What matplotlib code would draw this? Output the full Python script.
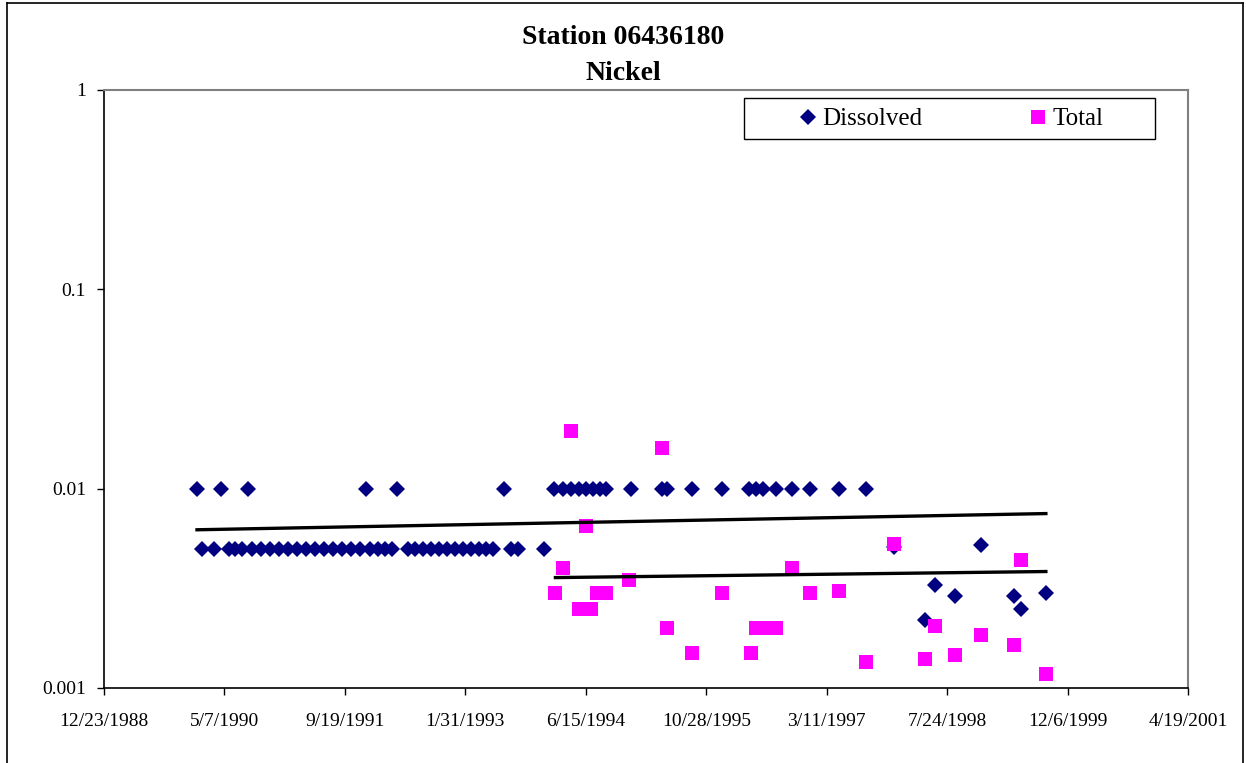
import matplotlib
matplotlib.use("Agg")
import matplotlib.pyplot as plt
import matplotlib.dates as mdates
from matplotlib.lines import Line2D
from matplotlib.patches import Rectangle
import pandas as pd

plt.rcParams['font.family'] = ['Liberation Serif', 'DejaVu Serif']

# Dissolved nickel (mg/L)
dissolved_dates = [
    "1990-01-13", "1990-02-02", "1990-03-24", "1990-04-22", "1990-05-25", "1990-06-19",
    "1990-07-18", "1990-08-12", "1990-08-29", "1990-10-05", "1990-11-11", "1990-12-19",
    "1991-01-25", "1991-03-03", "1991-04-10", "1991-05-17", "1991-06-23", "1991-07-31",
    "1991-09-06", "1991-10-13", "1991-11-20", "1991-12-15", "1991-12-31", "1992-02-02",
    "1992-03-02", "1992-03-31", "1992-04-21", "1992-06-06", "1992-07-05", "1992-08-07",
    "1992-09-09", "1992-10-12", "1992-11-15", "1992-12-18", "1993-01-20", "1993-02-22",
    "1993-03-27", "1993-04-25", "1993-05-24", "1993-07-09", "1993-08-07", "1993-09-05",
    "1993-12-22", "1994-02-05", "1994-03-11", "1994-04-13", "1994-05-16", "1994-06-14",
    "1994-07-13", "1994-08-11", "1994-09-05", "1994-12-18", "1995-04-29", "1995-05-20",
    "1995-08-28", "1996-01-03", "1996-04-23", "1996-05-22", "1996-06-20", "1996-08-13",
    "1996-10-19", "1997-01-02", "1997-05-02", "1997-08-22", "1997-12-16", "1998-04-23",
    "1998-06-04", "1998-08-26", "1998-12-12", "1999-04-27", "1999-05-26", "1999-09-07",
]
dissolved_vals = [
    0.01, 0.005, 0.005, 0.01, 0.005, 0.005,
    0.005, 0.01, 0.005, 0.005, 0.005, 0.005,
    0.005, 0.005, 0.005, 0.005, 0.005, 0.005,
    0.005, 0.005, 0.005, 0.01, 0.005, 0.005,
    0.005, 0.005, 0.01, 0.005, 0.005, 0.005,
    0.005, 0.005, 0.005, 0.005, 0.005, 0.005,
    0.005, 0.005, 0.005, 0.01, 0.005, 0.005,
    0.005, 0.01, 0.01, 0.01, 0.01, 0.01,
    0.01, 0.01, 0.01, 0.01, 0.01, 0.01,
    0.01, 0.01, 0.01, 0.01, 0.01, 0.01,
    0.01, 0.01, 0.01, 0.01, 0.0051, 0.0022,
    0.0033, 0.0029, 0.0052, 0.0029, 0.0025, 0.003,
]

# Total nickel (mg/L)
total_dates = [
    "1994-02-09", "1994-03-11", "1994-04-16", "1994-05-19", "1994-06-14", "1994-07-08",
    "1994-08-02", "1994-09-05", "1994-12-13", "1995-04-29", "1995-05-20", "1995-08-28",
    "1996-01-03", "1996-05-01", "1996-05-22", "1996-07-03", "1996-08-13", "1996-10-19",
    "1997-01-02", "1997-05-02", "1997-08-22", "1997-12-16", "1998-04-23", "1998-06-04",
    "1998-08-26", "1998-12-12", "1999-04-27", "1999-05-26", "1999-09-07",
]
total_vals = [
    0.003, 0.004, 0.0195, 0.0025, 0.0065, 0.0025,
    0.003, 0.003, 0.0035, 0.016, 0.002, 0.0015,
    0.003, 0.0015, 0.002, 0.002, 0.002, 0.004,
    0.003, 0.00305, 0.00135, 0.0053, 0.0014, 0.00205,
    0.00146, 0.00185, 0.00165, 0.0044, 0.00118,
]

# trendline end values
dissolved_trend = [0.00622, 0.0075]
total_trend = [0.00358, 0.00384]

x_start = "1988-12-23"
x_step_days = 500
x_ticks_n = 10

fig = plt.figure(figsize=(12.46, 7.63), dpi=100)
ax = fig.add_axes([104 / 1246, 1 - 688 / 763, 1084 / 1246, 598 / 763])

d_dates = pd.to_datetime(dissolved_dates)
t_dates = pd.to_datetime(total_dates)

ax.plot(d_dates, dissolved_vals, linestyle='none', marker='D',
        markersize=8.4, color='#000080', markeredgewidth=0, label='Dissolved', zorder=3)
ax.plot(t_dates, total_vals, linestyle='none', marker='s',
        markersize=10.3, color='#FF00FF', markeredgewidth=0, label='Total', zorder=4)

ax.plot([d_dates.min(), d_dates.max()], dissolved_trend, color='black', linewidth=2.4, zorder=5)
ax.plot([t_dates.min(), t_dates.max()], total_trend, color='black', linewidth=2.4, zorder=5)

ax.set_yscale('log')
ax.set_ylim(0.001, 1)
ax.set_yticks([0.001, 0.01, 0.1, 1])
ax.set_yticklabels(['0.001', '0.01', '0.1', '1'])
ax.yaxis.set_minor_locator(matplotlib.ticker.NullLocator())

ticks = [pd.Timestamp(x_start) + pd.Timedelta(days=x_step_days * i) for i in range(x_ticks_n)]
ax.set_xlim(ticks[0], ticks[-1])
ax.set_xticks(ticks)
ax.set_xticklabels([f"{t.month}/{t.day}/{t.year}" for t in ticks])

ax.tick_params(axis='both', direction='out', labelsize=14, length=5, width=1, colors='black')
ax.tick_params(axis='y', pad=8)
ax.tick_params(axis='x', pad=13)

for side in ['top', 'right']:
    ax.spines[side].set_color('#808080')
    ax.spines[side].set_linewidth(1.5)
for side in ['left', 'bottom']:
    ax.spines[side].set_color('black')
    ax.spines[side].set_linewidth(1.2)

# legend box
ax.add_patch(Rectangle((0.5904, 0.918), 0.3792, 0.0686, transform=ax.transAxes,
                       facecolor='white', edgecolor='black', linewidth=1.0, zorder=6))
leg = ax.legend(loc='center left', bbox_to_anchor=(0.6425, 0.9515), ncol=2, fontsize=18,
                frameon=False, borderaxespad=0, borderpad=0, handlelength=0.6,
                handletextpad=0.28, columnspacing=4.3)
leg.set_zorder(7)

fig.text(0.5, 1 - 38 / 763, 'Station 06436180', ha='center', va='center',
         fontsize=20, fontweight='bold')
fig.text(0.5, 1 - 73 / 763, 'Nickel', ha='center', va='center',
         fontsize=20, fontweight='bold')

# chart-area border
fig.add_artist(Line2D([7 / 1246, 7 / 1246], [0, 1 - 3 / 763], color='black', linewidth=1.2,
                      transform=fig.transFigure))
fig.add_artist(Line2D([7 / 1246, 1243 / 1246], [1 - 3 / 763, 1 - 3 / 763], color='black',
                      linewidth=1.2, transform=fig.transFigure))
fig.add_artist(Line2D([1243 / 1246, 1243 / 1246], [0, 1 - 3 / 763], color='black',
                      linewidth=1.2, transform=fig.transFigure))

fig.savefig('out.png', dpi=100)
